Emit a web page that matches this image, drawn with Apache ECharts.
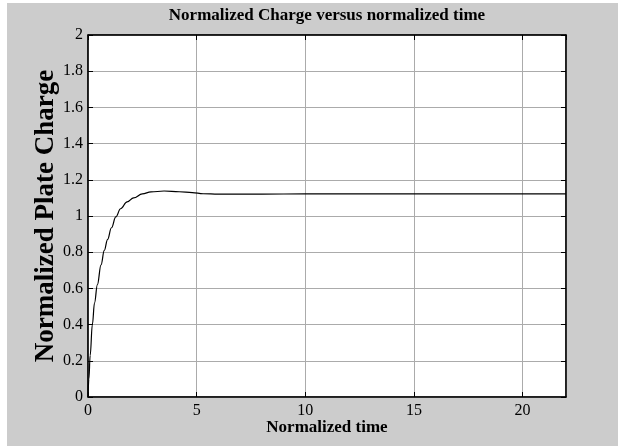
<!DOCTYPE html>
<html>
<head>
<meta charset="utf-8">
<script src="https://cdn.jsdelivr.net/npm/echarts@6/dist/echarts.min.js"></script>
<style>
html,body{margin:0;padding:0;background:#fff;}
#wrap{position:relative;width:618px;height:446px;background:#fff;overflow:hidden;}
#chart{position:absolute;left:7px;top:3px;width:611px;height:443px;}
</style>
</head>
<body>
<div id="wrap"><div id="chart"></div></div>
<script>
// Data
const timeValues = [0, 0.04, 0.1, 0.2, 0.3, 0.43, 0.6, 0.75, 0.9, 1.08, 1.28, 1.5, 1.8, 2.1, 2.5, 2.9, 3.5, 4.2, 4.8, 5.3, 6, 8, 10, 15, 22];
const chargeValues = [0, 0.1, 0.23, 0.4, 0.52, 0.62, 0.73, 0.81, 0.87, 0.935, 0.995, 1.04, 1.078, 1.10, 1.122, 1.133, 1.138, 1.134, 1.129, 1.123, 1.121, 1.121, 1.122, 1.122, 1.122];
const xTickInterval = 5;
const yTickInterval = 0.2;
const titleText = 'Normalized Charge versus normalized time';
const xName = 'Normalized time';
const yName = 'Normalized Plate Charge';

const serif = '"Liberation Serif", "Times New Roman", serif';
const chart = echarts.init(document.getElementById('chart'), null, {renderer: 'canvas'});
const gridLeft = 81, gridRight = 52, gridTop = 32, gridBottom = 49;
const plotCenterX = gridLeft + (611 - gridLeft - gridRight) / 2;

const tickStyle = {show: true, inside: true, length: 5, lineStyle: {color: '#000', width: 1}};
const lineStyle = {show: true, onZero: false, lineStyle: {color: '#000', width: 1.5}};

chart.setOption({
  backgroundColor: '#cccccc',
  animation: false,
  graphic: [{
    type: 'text', x: plotCenterX, y: 13,
    style: {text: titleText, fill: '#000', font: 'bold 17px ' + serif, textAlign: 'center', textVerticalAlign: 'middle'}
  }],
  grid: {left: gridLeft, right: gridRight, top: gridTop, bottom: gridBottom, show: true, backgroundColor: '#fff', borderColor: '#000', borderWidth: 1},
  xAxis: [{
    type: 'value', min: 0, max: 22, interval: xTickInterval, position: 'bottom',
    axisLine: lineStyle, axisTick: tickStyle,
    axisLabel: {color: '#000', fontFamily: serif, fontSize: 16, margin: 6, showMaxLabel: false},
    splitLine: {show: true, lineStyle: {color: '#ababab', width: 1}},
    name: xName, nameLocation: 'middle', nameGap: 22, nameMoveOverlap: false,
    nameTextStyle: {color: '#000', fontFamily: serif, fontSize: 17, fontWeight: 'bold'}
  }, {
    type: 'value', min: 0, max: 22, interval: xTickInterval, position: 'top',
    axisLine: lineStyle, axisTick: tickStyle, axisLabel: {show: false}, splitLine: {show: false}
  }],
  yAxis: [{
    type: 'value', min: 0, max: 2, interval: yTickInterval, position: 'left',
    axisLine: lineStyle, axisTick: tickStyle,
    axisLabel: {color: '#000', fontFamily: serif, fontSize: 16, margin: 5},
    splitLine: {show: true, lineStyle: {color: '#ababab', width: 1}},
    name: yName, nameLocation: 'middle', nameGap: 28, nameMoveOverlap: false,
    nameTextStyle: {color: '#000', fontFamily: serif, fontSize: 27, fontWeight: 'bold'}
  }, {
    type: 'value', min: 0, max: 2, interval: yTickInterval, position: 'right',
    axisLine: lineStyle, axisTick: tickStyle, axisLabel: {show: false}, splitLine: {show: false}
  }],
  series: [{
    type: 'line', xAxisIndex: 0, yAxisIndex: 0,
    data: timeValues.map((t, i) => [t, chargeValues[i]]),
    smooth: 0.4, smoothMonotone: 'x', showSymbol: false, symbol: 'none',
    lineStyle: {color: '#000', width: 1.2}
  }]
});
</script>
</body>
</html>
